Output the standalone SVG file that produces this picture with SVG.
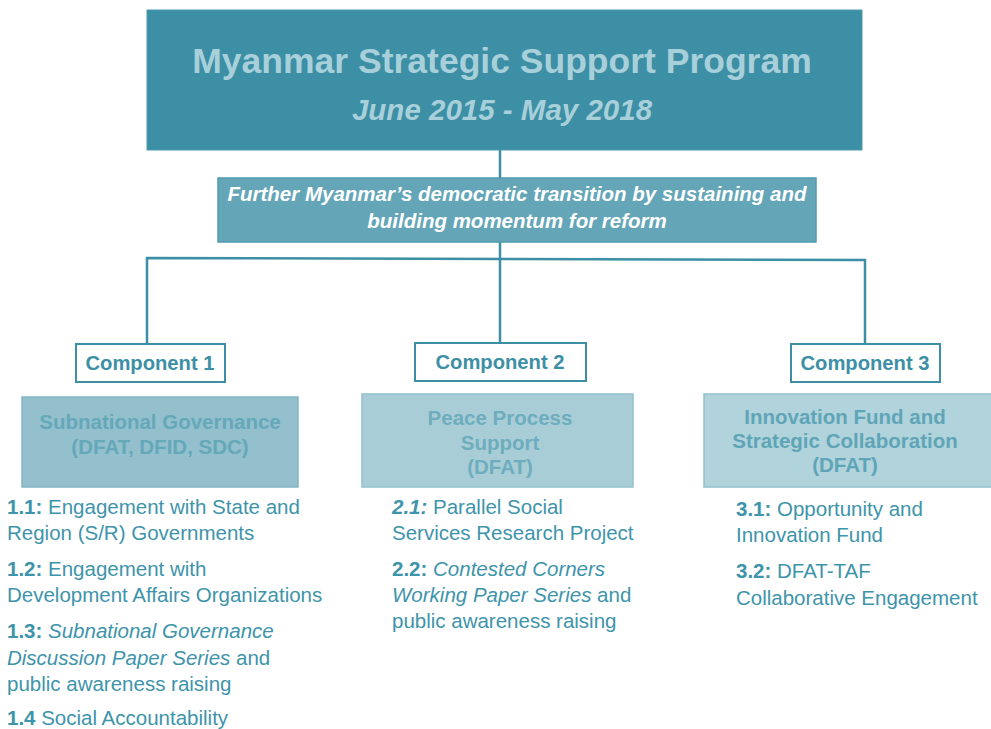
<svg xmlns="http://www.w3.org/2000/svg" width="991" height="729" viewBox="0 0 991 729">
  <style>
    text { font-family: "Liberation Sans", Arial, sans-serif; }
    .title { font-size: 35.5px; font-weight: bold; fill: #a8d0da; }
    .subtitle { font-size: 29.5px; font-weight: bold; font-style: italic; fill: #a8d0da; }
    .goal { font-size: 20.5px; font-weight: bold; font-style: italic; fill: #ffffff; }
    .comp { fill: #ffffff; stroke: #3d8fa5; stroke-width: 2; }
    .comp-label { font-size: 20.2px; font-weight: bold; fill: #3d8fa5; }
    .area-label { font-size: 20.5px; font-weight: bold; }
    .item { font-size: 20.5px; fill: #3e94aa; }
    .num { font-weight: bold; }
    .it { font-style: italic; }
    .conn { fill: none; stroke: #3d8fa5; stroke-width: 2.5; }
  </style>
  <rect width="991" height="729" fill="#ffffff"/>

  <g id="connectors">
    <line class="conn" x1="500" y1="150" x2="500" y2="178"/>
    <line class="conn" x1="500" y1="242" x2="500" y2="343"/>
    <polyline class="conn" points="147,344 147,258 865,260 865,344"/>
  </g>

  <g id="program">
    <rect x="147" y="10" width="715" height="140" fill="#3d8fa5" stroke="#4f9bb0" stroke-width="1"/>
    <text class="title" x="502" y="73" text-anchor="middle">Myanmar Strategic Support Program</text>
    <text class="subtitle" x="502" y="120" text-anchor="middle">June 2015 - May 2018</text>
  </g>

  <g id="goal">
    <rect x="218" y="178" width="598" height="64" fill="#64a6b8" stroke="#4f9bb0" stroke-width="1.5"/>
    <text class="goal" x="517" y="201" text-anchor="middle">Further Myanmar’s democratic transition by sustaining and</text>
    <text class="goal" x="517" y="228" text-anchor="middle">building momentum for reform</text>
  </g>

  <g id="component-1">
    <rect class="comp" x="76" y="344" width="149" height="38"/>
    <text class="comp-label" x="150" y="370" text-anchor="middle">Component 1</text>
  </g>
  <g id="component-2">
    <rect class="comp" x="415" y="343" width="171" height="38"/>
    <text class="comp-label" x="500" y="369" text-anchor="middle">Component 2</text>
  </g>
  <g id="component-3">
    <rect class="comp" x="791" y="344" width="149" height="38"/>
    <text class="comp-label" x="865" y="370" text-anchor="middle">Component 3</text>
  </g>

  <g id="area-1">
    <rect x="22" y="397" width="276" height="90" fill="#93c0cc" stroke="#83b6c4" stroke-width="1.5"/>
    <text class="area-label" x="160" y="429" text-anchor="middle" fill="#65a8ba">Subnational Governance</text>
    <text class="area-label" x="160" y="454" text-anchor="middle" fill="#65a8ba">(DFAT, DFID, SDC)</text>
  </g>
  <g id="area-2">
    <rect x="362" y="394" width="271" height="93" fill="#a8cdd6" stroke="#93c0cc" stroke-width="1.5"/>
    <text class="area-label" x="500" y="425" text-anchor="middle" fill="#6eadbe">Peace Process</text>
    <text class="area-label" x="500" y="450" text-anchor="middle" fill="#6eadbe">Support</text>
    <text class="area-label" x="500" y="474" text-anchor="middle" fill="#6eadbe">(DFAT)</text>
  </g>
  <g id="area-3">
    <rect x="704" y="394" width="290" height="93" fill="#b0d3dc" stroke="#93c0cc" stroke-width="1.5"/>
    <text class="area-label" x="845" y="424" text-anchor="middle" fill="#5fa5b7">Innovation Fund and</text>
    <text class="area-label" x="845" y="448" text-anchor="middle" fill="#5fa5b7">Strategic Collaboration</text>
    <text class="area-label" x="845" y="472" text-anchor="middle" fill="#5fa5b7">(DFAT)</text>
  </g>

  <g id="outputs-1">
    <text class="item" x="7" y="514"><tspan class="num">1.1:</tspan> Engagement with State and</text>
    <text class="item" x="7" y="540">Region (S/R) Governments</text>
    <text class="item" x="7" y="576"><tspan class="num">1.2:</tspan> Engagement with</text>
    <text class="item" x="7" y="602">Development Affairs Organizations</text>
    <text class="item" x="7" y="638"><tspan class="num">1.3:</tspan> <tspan class="it">Subnational Governance</tspan></text>
    <text class="item" x="7" y="665"><tspan class="it">Discussion Paper Series</tspan> and</text>
    <text class="item" x="7" y="691">public awareness raising</text>
    <text class="item" x="7" y="725"><tspan class="num">1.4</tspan> Social Accountability</text>
  </g>

  <g id="outputs-2">
    <text class="item" x="392" y="514"><tspan class="num it">2.1:</tspan> Parallel Social</text>
    <text class="item" x="392" y="540">Services Research Project</text>
    <text class="item" x="392" y="576"><tspan class="num">2.2:</tspan> <tspan class="it">Contested Corners</tspan></text>
    <text class="item" x="392" y="602"><tspan class="it">Working Paper Series</tspan> and</text>
    <text class="item" x="392" y="628">public awareness raising</text>
  </g>

  <g id="outputs-3">
    <text class="item" x="736" y="516"><tspan class="num">3.1:</tspan> Opportunity and</text>
    <text class="item" x="736" y="542">Innovation Fund</text>
    <text class="item" x="736" y="578"><tspan class="num">3.2:</tspan> DFAT-TAF</text>
    <text class="item" x="736" y="605">Collaborative Engagement</text>
  </g>
</svg>
